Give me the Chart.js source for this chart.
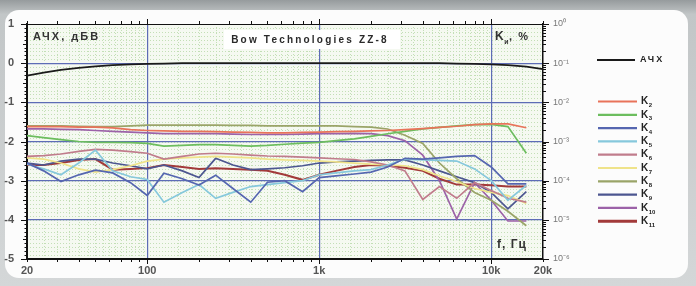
<!DOCTYPE html>
<html>
<head>
<meta charset="utf-8">
<script src="https://cdn.jsdelivr.net/npm/chart.js@4"></script>
<style>
html, body { margin: 0; padding: 0; background: #c4c8c9; }
#wrap { width: 696px; height: 286px; position: relative; }
</style>
</head>
<body>
<div id="wrap"><canvas id="afrChart"></canvas></div>
<script>
// third-octave frequencies, Hz
const freqs = [20, 25, 31.5, 40, 50, 63, 80, 100, 125, 160, 200, 250, 315, 400, 500, 630, 800,
  1000, 1250, 1600, 2000, 2500, 3150, 4000, 5000, 6300, 8000, 10000, 12500, 16000];
const afrFreqs = [...freqs, 20000];

// АЧХ, dBV (left axis)
const afr = [-0.32, -0.24, -0.17, -0.12, -0.08, -0.05, -0.03, -0.02, -0.01, 0, 0, 0, 0, 0, 0, 0,
  0, 0, 0, 0, 0, 0, 0, 0, 0, -0.01, -0.02, -0.03, -0.05, -0.09, -0.15];

// harmonic levels, % (right axis)
const k2 = [2.40e-3, 2.40e-3, 2.40e-3, 2.34e-3, 2.34e-3, 2.24e-3, 2.00e-3, 1.91e-3, 1.86e-3, 1.82e-3, 1.82e-3, 1.78e-3, 1.74e-3, 1.70e-3, 1.66e-3, 1.66e-3, 1.70e-3, 1.74e-3, 1.78e-3, 1.82e-3, 1.86e-3, 1.91e-3, 2.00e-3, 2.14e-3, 2.29e-3, 2.45e-3, 2.69e-3, 2.82e-3, 2.82e-3, 2.24e-3];
const k3 = [1.41e-3, 1.26e-3, 1.12e-3, 1.00e-3, 9.55e-4, 9.55e-4, 9.33e-4, 8.91e-4, 7.59e-4, 7.94e-4, 8.32e-4, 8.32e-4, 7.94e-4, 7.59e-4, 7.94e-4, 8.51e-4, 9.12e-4, 9.55e-4, 1.05e-3, 1.17e-3, 1.35e-3, 1.58e-3, 1.82e-3, 2.09e-3, 2.29e-3, 2.51e-3, 2.69e-3, 2.75e-3, 2.40e-3, 5.01e-4];
const k4 = [2.82e-4, 1.78e-4, 9.55e-5, 1.41e-4, 1.86e-4, 1.58e-4, 8.91e-5, 4.17e-5, 1.55e-4, 1.12e-4, 7.76e-5, 1.38e-4, 6.31e-5, 2.82e-5, 9.12e-5, 1.00e-4, 5.25e-5, 1.20e-4, 1.32e-4, 1.48e-4, 1.66e-4, 2.24e-4, 3.72e-4, 3.55e-4, 3.80e-4, 4.17e-4, 4.37e-4, 2.24e-4, 8.32e-5, 8.32e-5];
const k5 = [2.63e-4, 2.00e-4, 1.41e-4, 2.82e-4, 6.03e-4, 1.78e-4, 1.26e-4, 1.07e-4, 2.82e-5, 5.01e-5, 7.94e-5, 3.55e-5, 5.01e-5, 7.08e-5, 7.94e-5, 8.91e-5, 1.00e-4, 1.41e-4, 1.58e-4, 1.78e-4, 1.91e-4, 2.51e-4, 3.55e-4, 3.39e-4, 3.31e-4, 3.16e-4, 2.00e-4, 1.00e-4, 3.16e-5, 7.59e-5];
const k6 = [4.17e-4, 4.37e-4, 4.79e-4, 5.62e-4, 6.31e-4, 6.03e-4, 5.50e-4, 5.01e-4, 3.55e-4, 4.17e-4, 4.79e-4, 5.01e-4, 4.79e-4, 4.47e-4, 4.27e-4, 4.17e-4, 3.98e-4, 3.80e-4, 3.63e-4, 3.47e-4, 3.02e-4, 2.51e-4, 1.78e-4, 3.31e-5, 7.08e-5, 3.55e-5, 8.91e-5, 5.62e-5, 3.55e-5, 2.82e-5];
const k7 = [3.80e-4, 3.55e-4, 2.82e-4, 2.00e-4, 1.66e-4, 1.91e-4, 2.40e-4, 3.16e-4, 3.55e-4, 3.80e-4, 3.98e-4, 4.17e-4, 3.98e-4, 3.80e-4, 3.55e-4, 3.39e-4, 3.31e-4, 3.16e-4, 3.02e-4, 2.82e-4, 2.63e-4, 2.51e-4, 2.40e-4, 1.91e-4, 1.32e-4, 9.55e-5, 6.31e-5, 5.01e-5, 4.17e-5, 2.63e-5];
const k8 = [2.51e-3, 2.51e-3, 2.51e-3, 2.45e-3, 2.40e-3, 2.40e-3, 2.51e-3, 2.63e-3, 2.63e-3, 2.63e-3, 2.63e-3, 2.63e-3, 2.57e-3, 2.57e-3, 2.51e-3, 2.51e-3, 2.51e-3, 2.51e-3, 2.51e-3, 2.40e-3, 2.34e-3, 2.09e-3, 1.45e-3, 8.91e-4, 2.82e-4, 1.12e-4, 5.01e-5, 3.16e-5, 1.66e-5, 7.08e-6];
const k9 = [2.82e-4, 2.51e-4, 3.16e-4, 3.55e-4, 3.55e-4, 2.82e-4, 2.40e-4, 2.00e-4, 2.51e-4, 1.78e-4, 1.20e-4, 3.72e-4, 2.51e-4, 1.91e-4, 2.00e-4, 2.14e-4, 2.40e-4, 2.82e-4, 3.02e-4, 3.16e-4, 3.31e-4, 3.39e-4, 3.39e-4, 2.51e-4, 1.78e-4, 1.26e-4, 8.91e-5, 5.01e-5, 1.91e-5, 5.25e-5];
const k10 = [2.09e-3, 2.09e-3, 2.04e-3, 2.00e-3, 1.91e-3, 1.82e-3, 1.74e-3, 1.66e-3, 1.58e-3, 1.58e-3, 1.58e-3, 1.58e-3, 1.55e-3, 1.51e-3, 1.51e-3, 1.51e-3, 1.55e-3, 1.58e-3, 1.58e-3, 1.62e-3, 1.58e-3, 1.41e-3, 1.05e-3, 4.47e-4, 1.00e-4, 1.05e-5, 8.91e-5, 3.16e-5, 9.33e-6, 9.33e-6];
const k11 = [2.51e-4, 2.51e-4, 2.82e-4, 3.39e-4, 3.55e-4, 1.91e-4, 2.00e-4, 2.09e-4, 2.51e-4, 2.24e-4, 2.00e-4, 2.09e-4, 2.00e-4, 1.91e-4, 1.78e-4, 1.41e-4, 1.05e-4, 1.41e-4, 1.78e-4, 2.24e-4, 2.51e-4, 2.40e-4, 2.14e-4, 1.78e-4, 1.12e-4, 7.94e-5, 7.94e-5, 7.59e-5, 7.08e-5, 7.08e-5];

const harmonics = [k2, k3, k4, k5, k6, k7, k8, k9, k10, k11];
const harmonicNames = ['K2', 'K3', 'K4', 'K5', 'K6', 'K7', 'K8', 'K9', 'K10', 'K11'];
const harmonicColors = ['#e8735a', '#6cbd5e', '#5566b0', '#86c8dc', '#c07c8c',
  '#efe38a', '#9aa468', '#4c5690', '#9c62a8', '#a23a3a'];

const xTicks = [20, 100, 1000, 10000, 20000];
const xTickLabels = ['20', '100', '1k', '10k', '20k'];
const dbTicks = [-5, -4, -3, -2, -1, 0, 1];
const pctTicks = [1e-6, 1e-5, 1e-4, 1e-3, 1e-2, 1e-1, 1];

const FONT = '"Liberation Sans", Arial, sans-serif';
const MAJOR = '#5d6cb6';
const SUP = { '0': '\u2070', '1': '\u00b9', '2': '\u00b2', '3': '\u00b3', '4': '\u2074', '5': '\u2075', '6': '\u2076', '-': '\u207b' };

function toXY(xs, ys) {
  return ys.map((v, i) => ({ x: xs[i], y: v }));
}

// background panel + fine dotted grid
const backdrop = {
  id: 'backdrop',
  beforeDraw(chart) {
    const { ctx, chartArea: a, scales } = chart;
    ctx.save();
    const g = ctx.createLinearGradient(0, 0, 0, chart.height);
    g.addColorStop(0, '#969b9d');
    g.addColorStop(0.05, '#c2c6c7');
    g.addColorStop(1, '#d4d7d8');
    ctx.fillStyle = g;
    ctx.fillRect(0, 0, chart.width, chart.height);
    ctx.fillStyle = '#fcfcfc';
    ctx.beginPath();
    ctx.roundRect(5, 10, 683, 268, 14);
    ctx.fill();

    ctx.fillStyle = '#f5f9f1';
    ctx.fillRect(a.left, a.top, a.width, a.height);

    ctx.strokeStyle = '#c3dfb6';
    ctx.lineWidth = 1;
    ctx.setLineDash([1, 2]);
    ctx.beginPath();
    for (let d = 10; d <= 10000; d *= 10) {
      for (let n = 2; n < 20; n++) {
        const f = d * n / 2;
        if (f <= 20 || f >= 20000 || n === 2 && d > 10) continue;
        const px = Math.round(scales.x.getPixelForValue(f)) + 0.5;
        ctx.moveTo(px, a.top);
        ctx.lineTo(px, a.bottom);
      }
    }
    for (let i = 1; i < 60; i++) {
      const py = Math.round(scales.y.getPixelForValue(-5 + i / 10)) + 0.5;
      ctx.moveTo(a.left, py);
      ctx.lineTo(a.right, py);
    }
    ctx.stroke();
    ctx.restore();
  }
};

function drawK(ctx, x, y, sub, size) {
  ctx.font = 'bold ' + size + 'px ' + FONT;
  ctx.textAlign = 'left';
  ctx.textBaseline = 'middle';
  ctx.fillText('K', x, y);
  const w = ctx.measureText('K').width;
  ctx.font = 'bold ' + Math.round(size * 0.55) + 'px ' + FONT;
  ctx.fillText(sub, x + w + 0.5, y + size * 0.4);
  return x + w + ctx.measureText(sub).width + 1;
}

// tick marks, frame, captions, legend
const overlay = {
  id: 'overlay',
  afterDraw(chart) {
    const { ctx, chartArea: a, scales } = chart;
    ctx.save();
    ctx.strokeStyle = '#111';
    ctx.lineWidth = 1;
    ctx.beginPath();
    // top frame
    ctx.moveTo(a.left, a.top + 0.5);
    ctx.lineTo(a.right, a.top + 0.5);
    // x minor/major ticks, top and bottom
    for (let d = 10; d <= 10000; d *= 10) {
      for (let n = 1; n < 10; n++) {
        const f = d * n;
        if (f < 20 || f > 20000) continue;
        const px = Math.round(scales.x.getPixelForValue(f)) + 0.5;
        const len = n === 1 ? 5 : 3;
        ctx.moveTo(px, a.bottom);
        ctx.lineTo(px, a.bottom + len);
        ctx.moveTo(px, a.top);
        ctx.lineTo(px, a.top - len);
      }
    }
    // left ticks every 0.1 dB
    for (let i = 0; i <= 60; i++) {
      const py = Math.round(scales.y.getPixelForValue(-5 + i / 10)) + 0.5;
      const len = i % 10 === 0 ? 6 : (i % 5 === 0 ? 4 : 2.5);
      ctx.moveTo(a.left - len, py);
      ctx.lineTo(a.left, py);
    }
    // right log ticks
    for (let e = -6; e < 0; e++) {
      for (let n = 1; n < 10; n++) {
        const py = Math.round(scales.y2.getPixelForValue(n * Math.pow(10, e))) + 0.5;
        const len = n === 1 ? 6 : 3;
        ctx.moveTo(a.right, py);
        ctx.lineTo(a.right + len, py);
      }
    }
    const pTop = Math.round(scales.y2.getPixelForValue(1)) + 0.5;
    ctx.moveTo(a.right, pTop);
    ctx.lineTo(a.right + 6, pTop);
    ctx.stroke();

    // title box
    ctx.fillStyle = '#ffffff';
    ctx.fillRect(224, 30, 176, 19);
    ctx.fillStyle = '#2a2a2a';
    ctx.letterSpacing = '2.2px';
    ctx.font = 'bold 10px ' + FONT;
    ctx.textAlign = 'center';
    ctx.textBaseline = 'middle';
    ctx.fillText('Bow Technologies ZZ-8', 310, 40);

    ctx.fillStyle = '#333';
    ctx.font = 'bold 11px ' + FONT;
    ctx.textAlign = 'left';
    ctx.letterSpacing = '2px';
    ctx.fillText('АЧХ, дБВ', 33, 37);
    ctx.letterSpacing = '0px';
    const kx = drawK(ctx, 495, 37, 'и', 12);
    ctx.font = 'bold 11px ' + FONT;
    ctx.textBaseline = 'middle';
    ctx.fillText(',  %', kx, 37);
    ctx.font = 'bold 12px ' + FONT;
    ctx.letterSpacing = '1px';
    ctx.fillText('f, Гц', 497, 245);

    // legend
    const ds = chart.data.datasets;
    ctx.lineCap = 'butt';
    ctx.strokeStyle = ds[0].borderColor;
    ctx.lineWidth = 1.8;
    ctx.beginPath();
    ctx.moveTo(597, 60);
    ctx.lineTo(635, 60);
    ctx.stroke();
    ctx.fillStyle = '#222';
    ctx.font = 'bold 9px ' + FONT;
    ctx.letterSpacing = '2px';
    ctx.textBaseline = 'middle';
    ctx.fillText(ds[0].label, 640, 60);
    ctx.letterSpacing = '0px';
    for (let i = 1; i < ds.length; i++) {
      const ly = 101.5 + (i - 1) * 13.3;
      ctx.strokeStyle = ds[i].borderColor;
      ctx.lineWidth = i === ds.length - 1 ? 3 : 2.2;
      ctx.beginPath();
      ctx.moveTo(598, ly);
      ctx.lineTo(637, ly);
      ctx.stroke();
      ctx.fillStyle = '#222';
      drawK(ctx, 641, ly, ds[i].label.slice(1), 10);
    }
    ctx.restore();
  }
};

const datasets = [{
  label: 'АЧХ',
  data: toXY(afrFreqs, afr),
  yAxisID: 'y',
  borderColor: '#1a1a1a',
  borderWidth: 1.8
}];
harmonics.forEach((h, i) => {
  datasets.push({
    label: harmonicNames[i],
    data: toXY(freqs, h),
    yAxisID: 'y2',
    borderColor: harmonicColors[i],
    borderWidth: i === 9 ? 2 : 1.7
  });
});

new Chart(document.getElementById('afrChart').getContext('2d'), {
  type: 'line',
  data: { datasets: datasets },
  options: {
    responsive: true,
    maintainAspectRatio: false,
    animation: false,
    layout: { padding: { top: 24, left: 0, right: 0, bottom: 0 } },
    elements: { point: { radius: 0 }, line: { tension: 0 } },
    plugins: { legend: { display: false }, tooltip: { enabled: false } },
    scales: {
      x: {
        type: 'logarithmic',
        min: 20,
        max: 20000,
        afterBuildTicks: s => { s.ticks = xTicks.map(v => ({ value: v })); },
        afterFit: s => { s.height = 27; },
        border: { color: '#111', width: 2 },
        grid: {
          drawTicks: false,
          lineWidth: 1.2,
          color: c => [100, 1000, 10000].includes(c.tick && c.tick.value) ? MAJOR : 'rgba(0,0,0,0)'
        },
        ticks: {
          autoSkip: false,
          maxRotation: 0,
          padding: 5,
          color: '#555',
          font: { family: FONT, size: 11, weight: 'bold' },
          callback: v => xTickLabels[xTicks.indexOf(v)] || ''
        }
      },
      y: {
        type: 'linear',
        position: 'left',
        min: -5,
        max: 1,
        afterBuildTicks: s => { s.ticks = dbTicks.map(v => ({ value: v })); },
        afterFit: s => { s.width = 27; },
        border: { color: '#111', width: 2 },
        grid: {
          drawTicks: false,
          lineWidth: 1.2,
          color: c => (c.tick && c.tick.value > -5 && c.tick.value < 1) ? MAJOR : 'rgba(0,0,0,0)'
        },
        ticks: {
          padding: 13,
          color: '#555',
          font: { family: FONT, size: 11, weight: 'bold' }
        }
      },
      y2: {
        type: 'logarithmic',
        position: 'right',
        min: 1e-6,
        max: 1,
        afterBuildTicks: s => { s.ticks = pctTicks.map(v => ({ value: v })); },
        afterFit: s => { s.width = 153; },
        border: { color: '#111', width: 1.5 },
        grid: { drawOnChartArea: false, drawTicks: false },
        ticks: {
          padding: 10,
          color: '#777',
          font: { family: FONT, size: 9 },
          callback: v => '10' + String(Math.round(Math.log10(v))).split('').map(c => SUP[c]).join('')
        }
      }
    }
  },
  plugins: [backdrop, overlay]
});
</script>
</body>
</html>
